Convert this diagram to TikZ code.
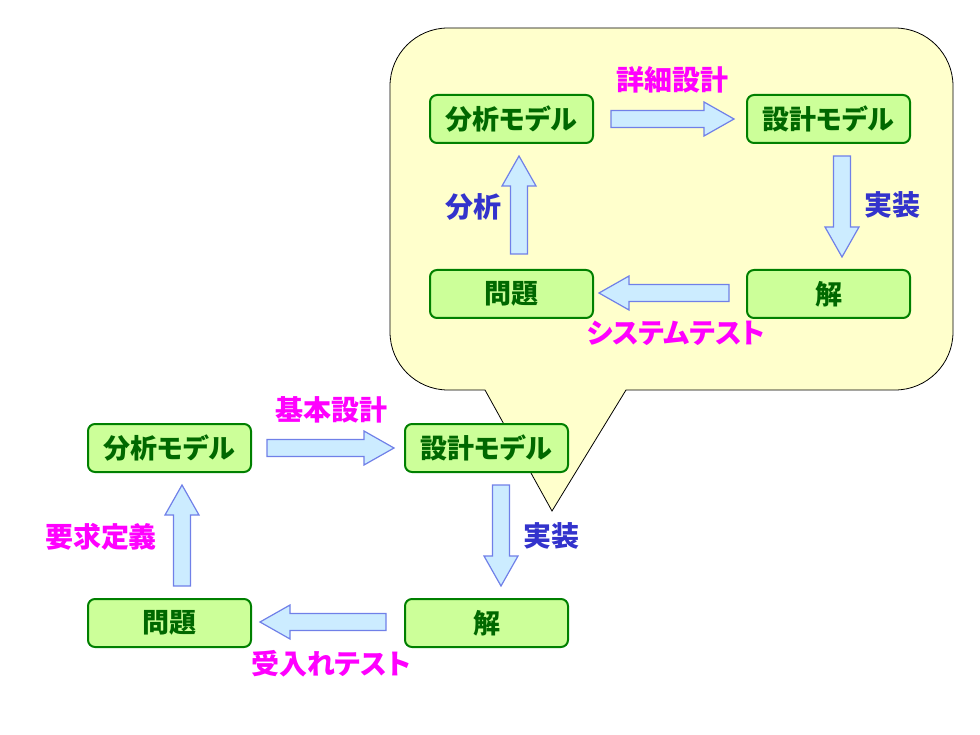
\documentclass[tikz,border=0pt]{standalone}
\usepackage{fontspec}
\setmainfont{Noto Sans CJK JP}[RawFeature=+palt]
\usetikzlibrary{calc}
\definecolor{boxfill}{HTML}{CCFF99}
\definecolor{boxline}{HTML}{008000}
\definecolor{boxtext}{HTML}{006800}
\definecolor{arrfill}{HTML}{CCECFF}
\definecolor{arrline}{HTML}{7080E8}
\definecolor{callfill}{HTML}{FFFFCC}
\definecolor{magentalbl}{HTML}{FF00FF}
\definecolor{bluelbl}{HTML}{3333CC}
\tikzset{
  box/.style={draw=boxline, line width=2pt, fill=boxfill, rounded corners=7pt,
    minimum width=163pt, minimum height=48pt, inner sep=0pt,
    text=boxtext, font=\fontsize{27}{30}\selectfont\bfseries},
  mlbl/.style={text=magentalbl, font=\fontsize{28}{32}\selectfont\bfseries, inner sep=0pt},
  blbl/.style={text=bluelbl, font=\fontsize{28}{32}\selectfont\bfseries, inner sep=0pt},
  blockarrow/.style={draw=arrline, fill=arrfill, line width=1.2pt, line join=miter},
  callout/.style={draw=black, fill=callfill, line width=0.8pt}
}
% block arrow from point #1 to point #2
\newcommand\blkarrow[2]{%
  \path[blockarrow] let \p1=#1, \p2=#2,
    \n1={atan2(\y2-\y1,\x2-\x1)}, \n2={veclen(\x2-\x1,\y2-\y1)} in
    [shift={(\p1)}, rotate=\n1]
    (0pt,-8.5pt) -- (\n2-30pt,-8.5pt) -- (\n2-30pt,-17pt) -- (\n2,0pt)
    -- (\n2-30pt,17pt) -- (\n2-30pt,8.5pt) -- (0pt,8.5pt) -- cycle;}
\begin{document}
\begin{tikzpicture}[x=1pt,y=-1pt]
\useasboundingbox (0,0) rectangle (980,735);
% callout
\draw[callout] (485,390) -- (552,511) -- (626,390) -- (895,390)
  arc[start angle=90,end angle=0,radius=58] -- (953,86)
  arc[start angle=0,end angle=-90,radius=58] -- (448,28)
  arc[start angle=-90,end angle=-180,radius=58] -- (390,332)
  arc[start angle=180,end angle=90,radius=58] -- cycle;
% top cycle
\node[box] (a1) at (511.5,119) {分析モデル};
\node[box] (d1) at (828.5,119) {設計モデル};
\node[box] (p1) at (511.5,294) {問題};
\node[box] (s1) at (828.5,294) {解};
\blkarrow{($(a1.east)+(17,0)$)}{($(d1.west)+(-12,0)$)}
\blkarrow{($(d1.south)+(13.5,12)$)}{($(s1.north)+(13.5,-12)$)}
\blkarrow{($(s1.west)+(-17,-1)$)}{($(p1.east)+(5,-1)$)}
\blkarrow{($(p1.north)+(7.5,-15)$)}{($(a1.south)+(7.5,12)$)}
\node[mlbl] (l1) at (672,80) {詳細設計};
\node[blbl] (l2) at (892,205) {実装};
\node[blbl] (l3) at (473,207) {分析};
\node[mlbl] (l4) at (676,333) {システムテスト};
% bottom cycle
\node[box] (a2) at (169.5,448) {分析モデル};
\node[box] (d2) at (486.5,448) {設計モデル};
\node[box] (p2) at (169.5,623) {問題};
\node[box] (s2) at (486.5,623) {解};
\blkarrow{($(a2.east)+(15,0)$)}{($(d2.west)+(-10,0)$)}
\blkarrow{($(d2.south)+(14.5,12)$)}{($(s2.north)+(14.5,-12)$)}
\blkarrow{($(s2.west)+(-18,-1)$)}{($(p2.east)+(8,-1)$)}
\blkarrow{($(p2.north)+(12.5,-12)$)}{($(a2.south)+(12.5,12)$)}
\node[mlbl] (m1) at (331,410) {基本設計};
\node[blbl] (m2) at (551,536) {実装};
\node[mlbl] (m3) at (331,664) {受入れテスト};
\node[mlbl] (m4) at (101,537) {要求定義};
\end{tikzpicture}
\end{document}
